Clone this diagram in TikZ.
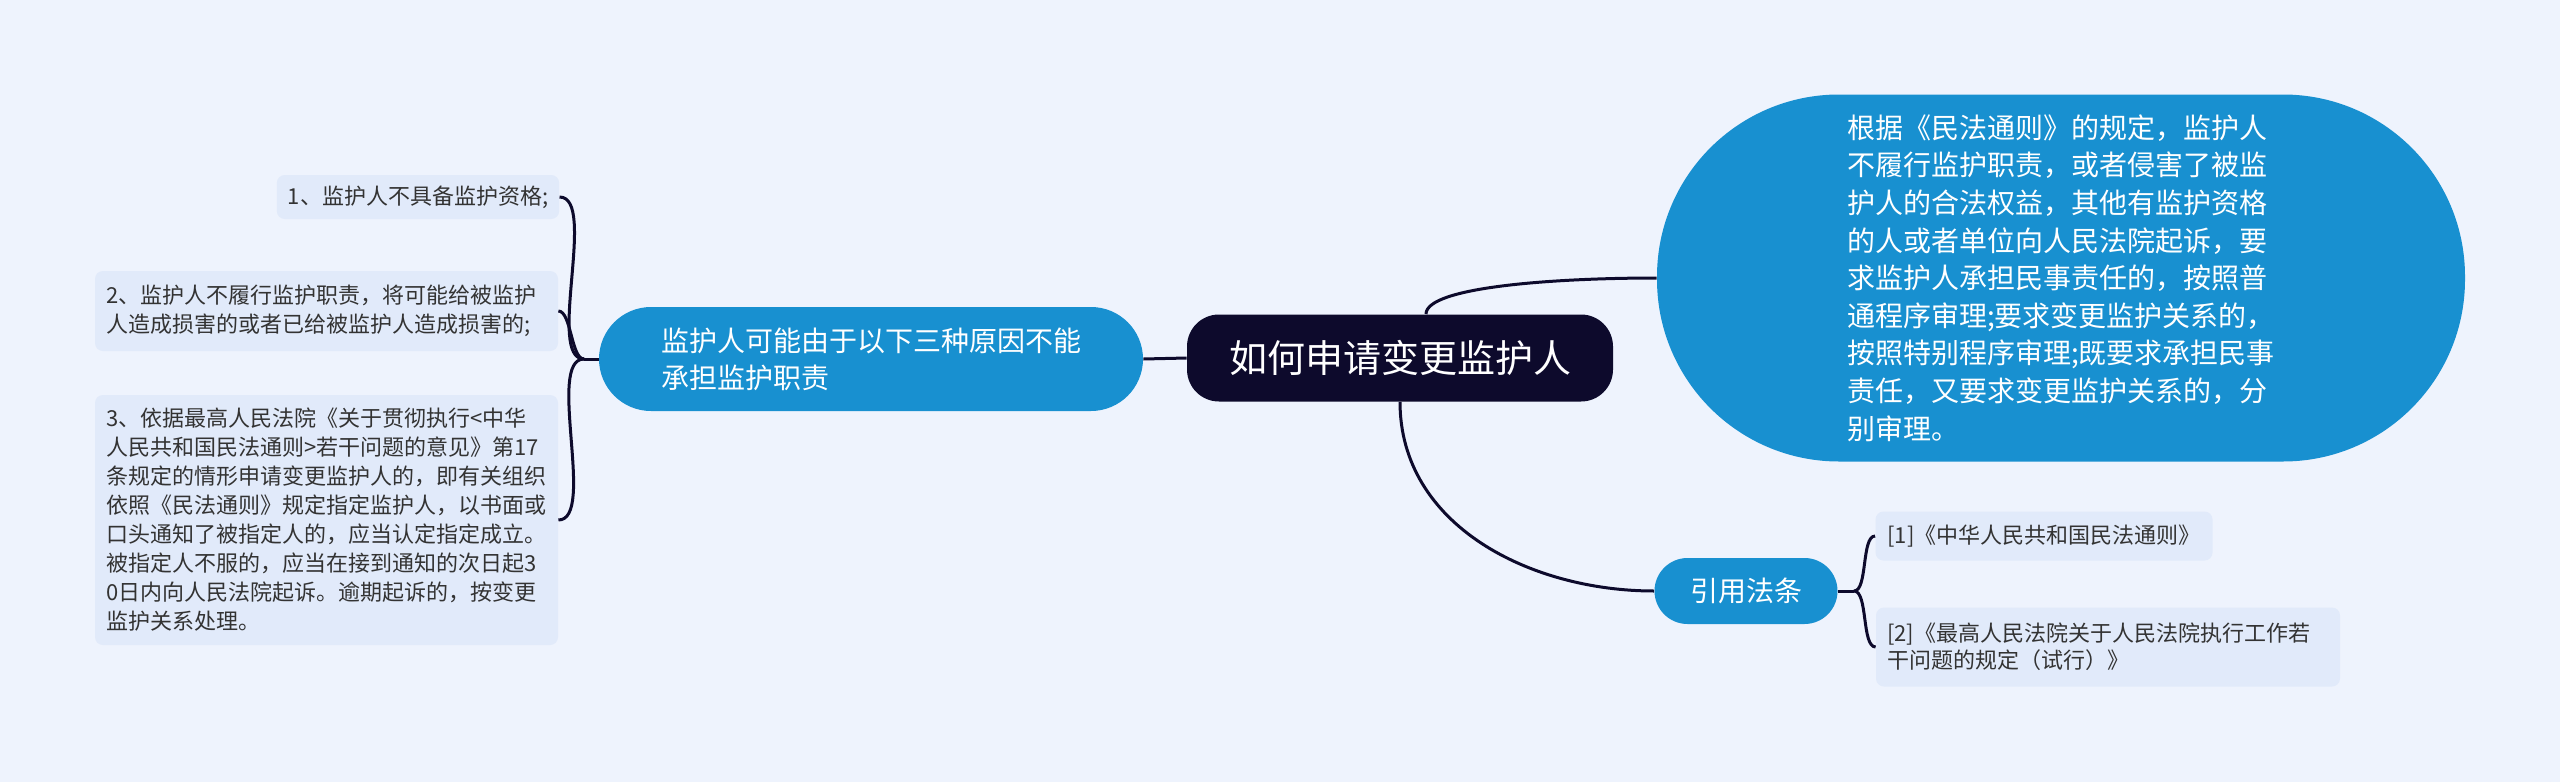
\documentclass[tikz,border=0pt]{standalone}
\usepackage{fontspec}
\setmainfont{Noto Sans CJK SC}
\definecolor{bgcol}{HTML}{EEF3FD}
\definecolor{leafcol}{HTML}{E1EAFA}
\definecolor{bluecol}{HTML}{1890D0}
\definecolor{navy}{HTML}{0D0A2C}
\tikzset{
  leaf/.style={fill=leafcol, text=black!80, rounded corners=4pt, align=left, inner xsep=5.5pt, inner ysep=0pt, font=\fontsize{11pt}{14.5pt}\selectfont},
  topic/.style={fill=bluecol, text=white, align=left, inner sep=0pt},
  link/.style={draw=navy, line width=1.5pt}
}

\begin{document}
\begin{tikzpicture}[x=0.5pt, y=-0.5pt]
            \fill[bgcol] (0,0) rectangle (2560,782);
            \node[fill=navy, text=white, rounded corners=16pt, minimum width=213pt, minimum height=43.5pt, font=\fontsize{19pt}{23pt}\selectfont] (root) at (1400,358) {如何申请变更监护人};
            \node[topic, rounded corners=26pt, minimum width=272pt, minimum height=52pt, font=\fontsize{14pt}{18.5pt}\selectfont] (cause) at (871,359) {监护人可能由于以下三种原因不能\\承担监护职责};
            \node[leaf, minimum width=140pt, minimum height=22pt] (c1) at (418,197) {1、监护人不具备监护资格;};
            \node[leaf, text width=220.5pt, minimum height=40pt] (c2) at (326.5,311) {2、监护人不履行监护职责，将可能给被监护\\人造成损害的或者已给被监护人造成损害的;};
            \node[leaf, text width=220.5pt, minimum height=125pt] (c3) at (326.5,520) {3、依据最高人民法院《关于贯彻执行<中华\\人民共和国民法通则>若干问题的意见》第17\\条规定的情形申请变更监护人的，即有关组织\\依照《民法通则》规定指定监护人，以书面或\\口头通知了被指定人的，应当认定指定成立。\\被指定人不服的，应当在接到通知的次日起3\\0日内向人民法院起诉。逾期起诉的，按变更\\监护关系处理。};
            \node[topic, rounded corners=91pt, minimum width=404pt, minimum height=183.5pt, font=\fontsize{14pt}{18.8pt}\selectfont] (rule) at (2061,278) {根据《民法通则》的规定，监护人\\不履行监护职责，或者侵害了被监\\护人的合法权益，其他有监护资格\\的人或者单位向人民法院起诉，要\\求监护人承担民事责任的，按照普\\通程序审理;要求变更监护关系的，\\按照特别程序审理;既要求承担民事\\责任，又要求变更监护关系的，分\\别审理。};
            \node[topic, rounded corners=16.5pt, minimum width=91.5pt, minimum height=33pt, font=\fontsize{14pt}{17pt}\selectfont] (refs) at (1746,591) {引用法条};
            \node[leaf, minimum width=168.5pt, minimum height=24.5pt] (r1) at (2044,536) {[1]《中华人民共和国民法通则》};
            \node[leaf, text width=221pt, minimum height=39.5pt, font=\fontsize{11pt}{13.5pt}\selectfont] (r2) at (2108,647) {[2]《最高人民法院关于人民法院执行工作若\\干问题的规定（试行）》};
            \coordinate (cj) at (584,359);
            \coordinate (rj) at (1854,591);
            \draw[link] (root.west) -- (cause.east);
            \draw[link] (cause.west) -- (cj);
            \foreach \n in {c1,c2,c3} \draw[link] (cj) to[out=180, in=0, looseness=0.6] (\n.east);
            \draw[link] ([xshift=13pt]root.north) to[out=90, in=180, out looseness=0.3, in looseness=1.1] (rule.west);
            \draw[link] (root.south) to[out=-90, in=180] (refs.west);
            \draw[link] (refs.east) -- (rj);
            \foreach \n in {r1,r2} \draw[link] (rj) to[out=0, in=180, looseness=0.6] (\n.west);
        \end{tikzpicture}
\end{document}
